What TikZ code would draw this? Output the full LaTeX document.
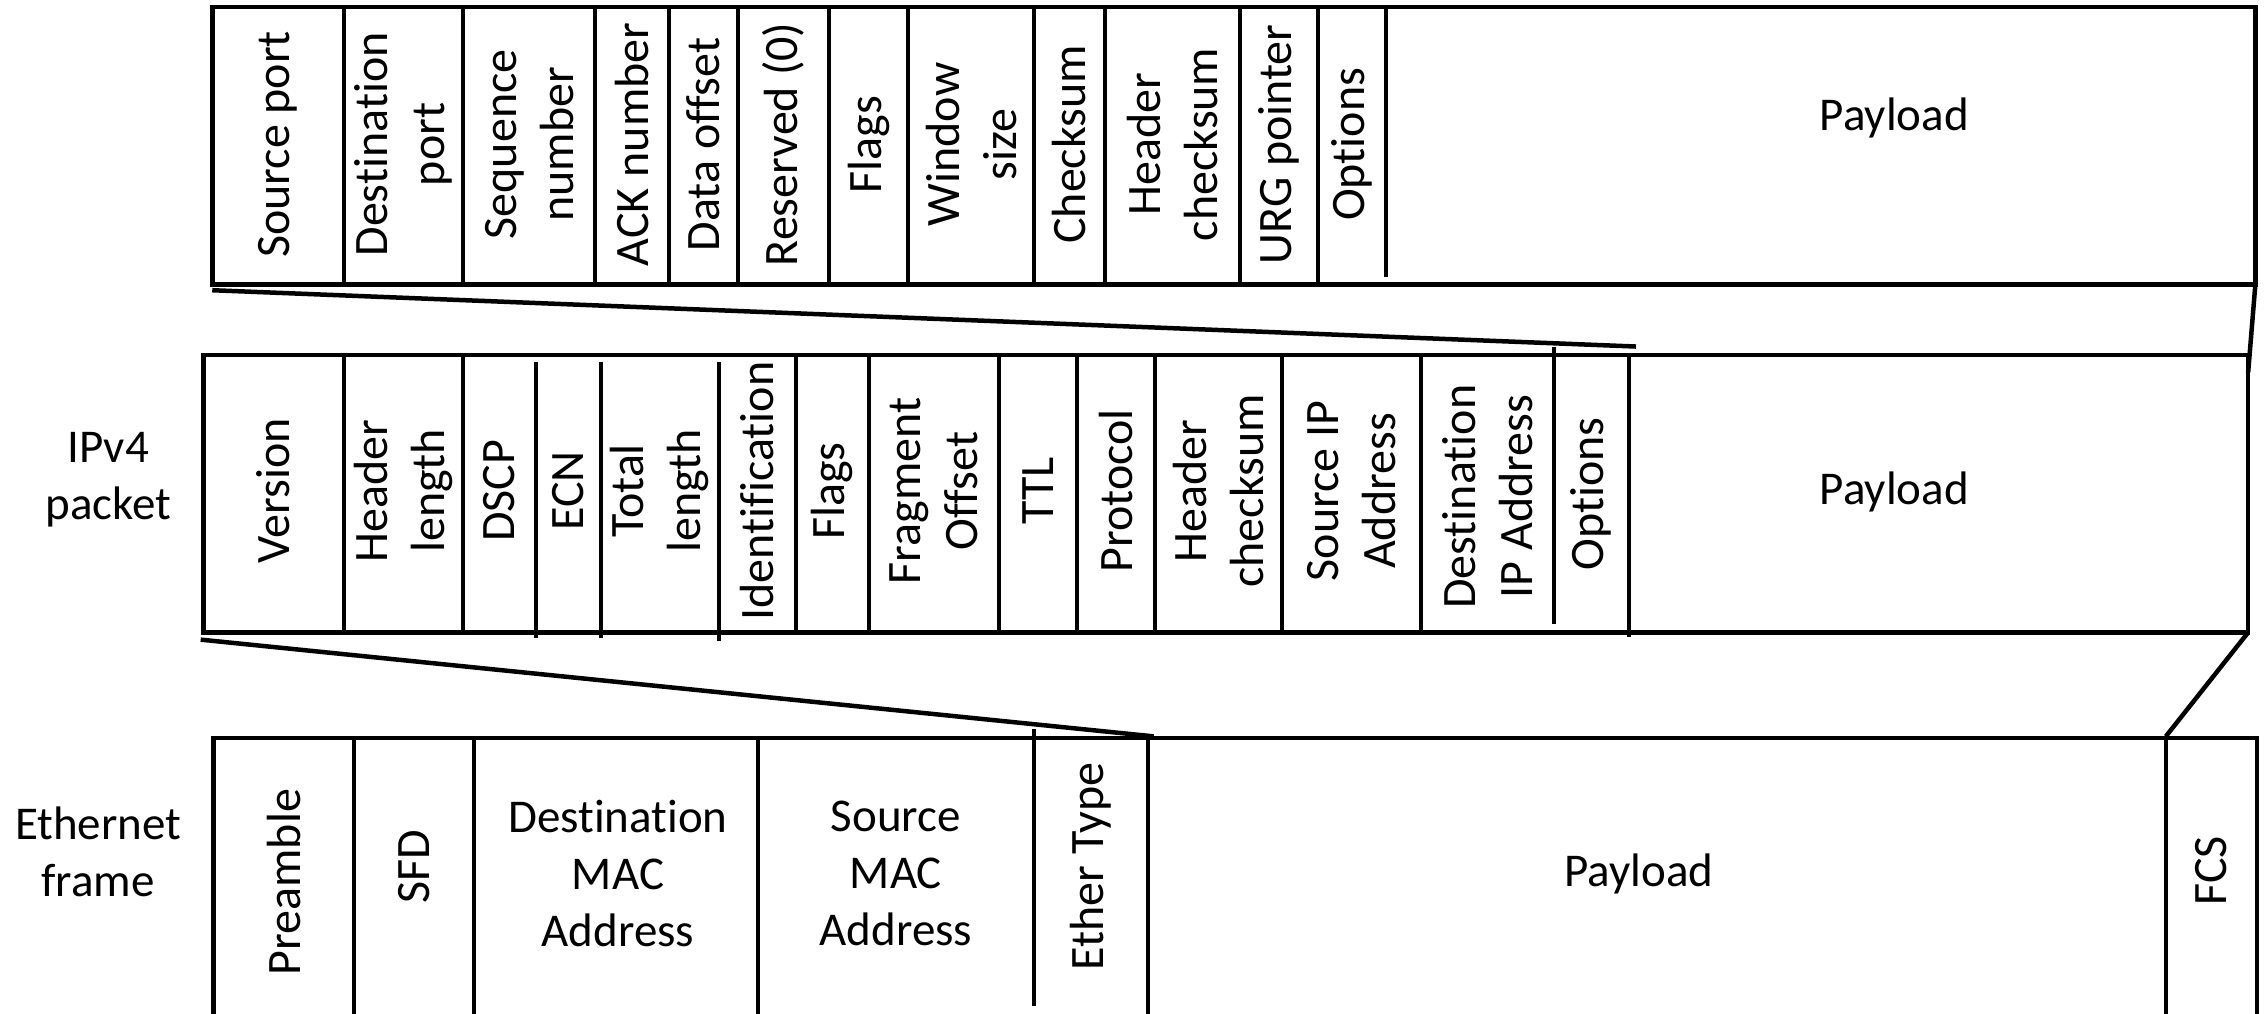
\documentclass[tikz,border=0pt]{standalone}
\usepackage{fontspec}
\setmainfont{Carlito}[Ligatures=CommonOff]
\begin{document}
\begin{tikzpicture}[x=1.444pt,y=-1.444pt,
  lbl/.style={inner sep=0pt, align=center, font=\fontsize{47}{57}\selectfont},
  vlbl/.style={lbl, rotate=90, font=\fontsize{48}{57}\selectfont},
  frameline/.style={line width=4.5pt},
  divline/.style={line width=4pt},
  funnel/.style={line width=4.5pt}]
\useasboundingbox (0,0) rectangle (1568,702);

% ---------------- TCP segment ----------------
\draw[frameline] (147,5) rectangle (1562,197);
\foreach \x in {238,321,412,463,511,574,629,716,765,859,913}
  \draw[divline] (\x,5) -- (\x,197);
\draw[divline] (960,5) -- (960,192);
\node[vlbl] (t1) at (192.5,100) {Source port};
\node[vlbl] (t2) at (279.5,100) {Destination\\port};
\node[vlbl] (t3) at (366.5,100) {Sequence\\number};
\node[vlbl] (t4) at (437.5,100) {ACK number};
\node[vlbl] (t5) at (487,100) {Data offset};
\node[vlbl] (t6) at (542.5,100) {Reserved (0)};
\node[vlbl] (t7) at (601.5,100) {Flags};
\node[vlbl] (t8) at (672.5,100) {Window\\size};
\node[vlbl] (t9) at (740.5,100) {Checksum};
\node[vlbl] (t10) at (812,100) {Header\\checksum};
\node[vlbl] (t11) at (886,100) {URG pointer};
\node[vlbl] (t12) at (936.5,100) {Options};
\node[lbl] (t13) at (1312,82) {Payload};

% ---------------- IPv4 packet ----------------
\node[lbl] (iplabel) at (75,332) {IPv4\\packet};
\draw[frameline] (141,246) rectangle (1557,438);
\foreach \x in {238,321,551,602,692,746,800,888,984}
  \draw[divline] (\x,246) -- (\x,438);
\draw[divline] (371,251) -- (371,442);
\draw[divline] (416,251) -- (416,442);
\draw[divline] (498,251) -- (498,444);
\draw[divline] (1076,240) -- (1076,432);
\draw[divline] (1128,246) -- (1128,441);
\node[vlbl] (i1) at (189.5,340) {Version};
\node[vlbl] (i2) at (279.5,340) {Header\\length};
\node[vlbl] (i3) at (346,340) {DSCP};
\node[vlbl] (i4) at (393.5,340) {ECN};
\node[vlbl] (i5) at (457,340) {Total\\length};
\node[vlbl] (i6) at (524.5,340) {Identification};
\node[vlbl] (i7) at (576.5,340) {Flags};
\node[vlbl] (i8) at (647,340) {Fragment\\Offset};
\node[vlbl] (i9) at (719,340) {TTL};
\node[vlbl] (i10) at (773,340) {Protocol};
\node[vlbl] (i11) at (844,340) {Header\\checksum};
\node[vlbl] (i12) at (936,340) {Source IP\\Address};
\node[vlbl] (i13) at (1030,344) {Destination\\IP Address};
\node[vlbl] (i14) at (1102,342) {Options};
\node[lbl] (i15) at (1312,341) {Payload};

% ---------------- Ethernet frame ----------------
\node[lbl] (ethlabel) at (68,590) {Ethernet\\frame};
\draw[frameline] (148,702) -- (148,511) -- (1563,511) -- (1563,702);
\foreach \x in {245,328,525,795,1500}
  \draw[divline] (\x,511) -- (\x,702);
\draw[divline] (716,505) -- (716,697);
\node[vlbl] (e1) at (196.5,611) {Preamble};
\node[vlbl] (e2) at (286.5,600) {SFD};
\node[lbl] (e3) at (428,605) {Destination\\MAC\\Address};
\node[lbl] (e4) at (620.5,605) {Source\\MAC\\Address};
\node[vlbl] (e5) at (755.5,600) {Ether Type};
\node[lbl] (e6) at (1135,605) {Payload};
\node[vlbl] (e7) at (1531.5,603) {FCS};

% ---------------- funnel connectors ----------------
\coordinate (tcpBL) at (147,201);
\coordinate (tcpBR) at (1562,197);
\coordinate (ipOptTop) at (1133,240);
\coordinate (ipRightIn) at (1557,258);
\coordinate (ipBL) at (139,443);
\coordinate (ipBR) at (1557,438);
\coordinate (ethTypeTop) at (799,510);
\coordinate (ethFcsTop) at (1500,510);
\draw[funnel] (tcpBL) -- (ipOptTop);
\draw[funnel] (tcpBR) -- (ipRightIn);
\draw[funnel] (ipBL) -- (ethTypeTop);
\draw[funnel] (ipBR) -- (ethFcsTop);
\end{tikzpicture}
\end{document}
